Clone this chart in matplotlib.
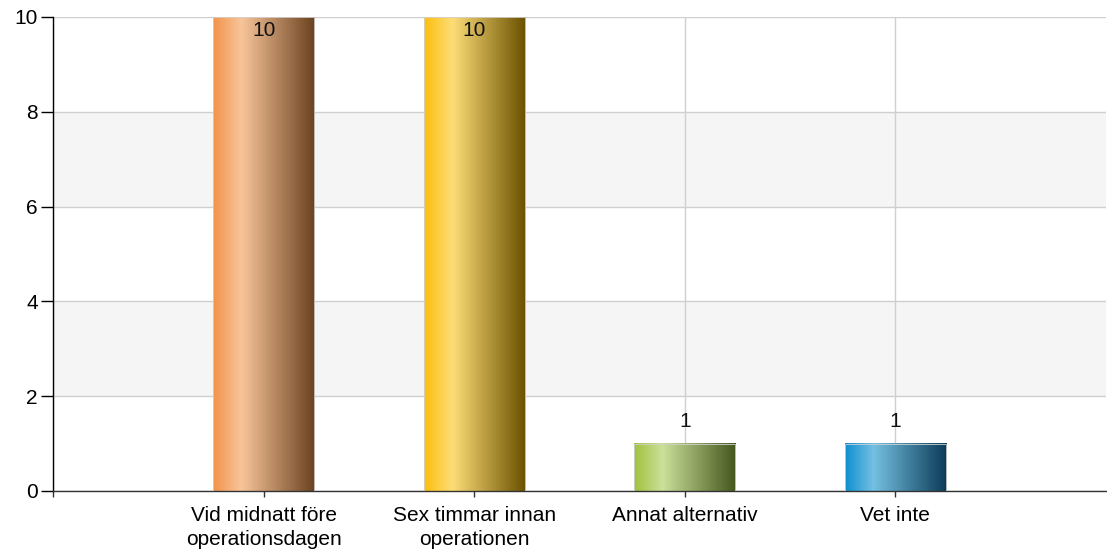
import matplotlib
matplotlib.use("Agg")
import matplotlib.pyplot as plt
import numpy as np
from matplotlib.colors import LinearSegmentedColormap

plt.rcParams['font.family'] = ['Liberation Sans', 'DejaVu Sans']

# data
categories = ["Vid midnatt före\noperationsdagen", "Sex timmar innan\noperationen",
              "Annat alternativ", "Vet inte"]
values = [10, 10, 1, 1]
y_ticks = [0, 2, 4, 6, 8, 10]

# gradient stops per bar: left, highlight, dark right
bar_colors = [
    ("#f3934a", "#f8c59a", "#6a421f"),
    ("#fcbf0c", "#fddd78", "#6a5000"),
    ("#9fc23c", "#cbe09a", "#44561c"),
    ("#0e8fd0", "#74c0e2", "#0b3a56"),
]

FS = 15

fig = plt.figure(figsize=(11.07, 5.52), dpi=100)
ax = fig.add_axes([53 / 1107, 1 - 491 / 552, 1053 / 1107, 474 / 552])

ax.set_xlim(0, 5)
ax.set_ylim(0, 10)

# alternating bands
for lo in (2, 6):
    ax.axhspan(lo, lo + 2, color="#f5f5f5", zorder=0, lw=0)

ax.set_yticks(y_ticks)
ax.set_xticks(range(len(categories) + 1))
ax.set_xticklabels([""] + categories, linespacing=1.35)
ax.grid(True, color="#cfcfcf", lw=1, zorder=1)
ax.set_axisbelow(True)

bar_w = 0.48
for i, (v, cols) in enumerate(zip(values, bar_colors)):
    x = i + 1
    cmap = LinearSegmentedColormap.from_list("g%d" % i,
                                             [(0, cols[0]), (0.28, cols[1]), (1, cols[2])])
    grad = np.linspace(0, 1, 256).reshape(1, -1)
    ax.imshow(grad, cmap=cmap, aspect="auto", extent=[x - bar_w / 2, x + bar_w / 2, 0, v],
              zorder=2, interpolation="bilinear")
    ax.add_patch(plt.Rectangle((x - bar_w / 2, 0), bar_w, v, fill=False,
                               edgecolor="#d0d0d0", lw=0.6, zorder=3))
    if v >= 10:
        ax.annotate(str(v), (x, v), xytext=(0, -3), textcoords="offset points",
                    ha="center", va="top", fontsize=FS, color="#111111", zorder=4)
    else:
        ax.annotate(str(v), (x, v), xytext=(0, 9), textcoords="offset points",
                    ha="center", va="bottom", fontsize=FS, color="#111111", zorder=4)

ax.set_xlim(0, 5)
ax.set_ylim(0, 10)

for s in ("top", "right"):
    ax.spines[s].set_visible(False)
ax.spines["left"].set_color("#000000")
ax.spines["bottom"].set_color("#333333")
ax.spines["left"].set_linewidth(1)
ax.spines["bottom"].set_linewidth(1)

ax.tick_params(axis="y", length=9, width=1, pad=2, labelsize=FS, colors="#000000")
ax.tick_params(axis="x", length=4.5, width=1, pad=6, labelsize=FS, colors="#333333",
               labelcolor="#000000")

fig.savefig("out.png", dpi=100)
